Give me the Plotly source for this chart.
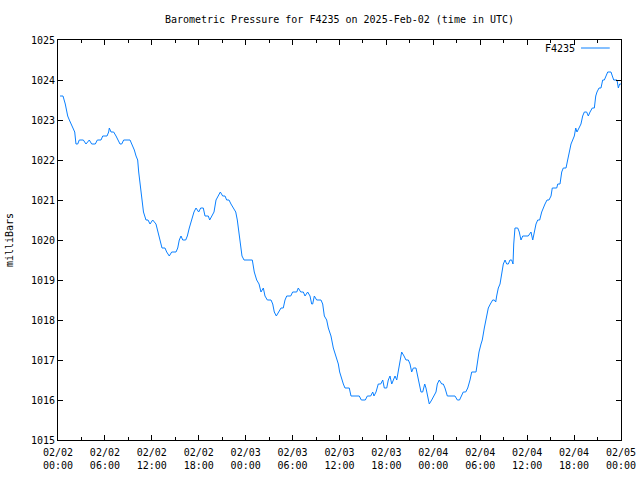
import pandas as pd
import plotly.graph_objects as go

start = "2025-02-02 00:00"
end = "2025-02-05 00:00"

# hours since 2025-02-02 00:00 UTC
hours = [0.26, 0.64, 0.93, 1.24, 1.45, 1.66, 1.96, 2.14, 2.30, 2.52, 2.72, 3.24, 3.58, 4.00, 4.31,
         4.77, 5.03, 5.50, 5.72, 6.27, 6.48, 6.56, 6.78, 7.12, 7.42, 7.71, 7.93, 8.15, 8.40, 9.21,
         9.46, 9.76, 9.98, 10.19, 10.32, 10.49, 10.65, 10.93, 11.25, 11.51, 11.77, 12.11, 12.53,
         12.83, 13.04, 13.30, 13.68, 13.90, 14.23, 14.54, 15.09, 15.31, 15.51, 15.73, 15.95, 16.33,
         16.54, 16.79, 17.10, 17.39, 17.65, 17.99, 18.25, 18.58, 18.80, 19.22, 19.40, 19.69, 19.95,
         20.21, 20.50, 20.76, 21.06, 21.36, 21.57, 21.87, 22.12, 22.42, 22.73, 22.93, 23.06, 23.19,
         23.37, 23.53, 23.79, 24.46, 24.85, 25.10, 25.41, 25.71, 25.96, 26.26, 26.47, 26.77, 27.24,
         27.46, 27.66, 27.92, 28.17, 28.52, 28.81, 29.03, 29.25, 29.76, 30.01, 30.53, 30.73, 31.04,
         31.37, 31.59, 31.93, 32.23, 32.44, 32.57, 32.78, 33.08, 33.63, 33.85, 34.06, 34.36, 34.57,
         34.91, 35.21, 35.51, 35.85, 36.02, 36.28, 36.49, 36.70, 37.25, 37.47, 38.53, 38.79, 39.30,
         39.56, 39.99, 40.25, 40.41, 40.67, 40.96, 41.27, 41.53, 41.73, 42.04, 42.24, 42.46, 42.68,
         42.88, 43.10, 43.32, 43.52, 43.74, 43.95, 44.25, 44.50, 44.80, 45.02, 45.23, 45.44, 45.78,
         46.00, 46.21, 46.42, 46.64, 46.90, 47.06, 47.23, 47.48, 47.79, 48.09, 48.34, 48.51, 48.76,
         49.07, 49.27, 49.49, 49.79, 50.77, 51.07, 51.35, 51.63, 51.83, 52.14, 52.40, 52.69, 52.91,
         53.46, 53.67, 53.84, 54.10, 54.26, 54.52, 54.82, 55.03, 55.29, 55.59, 55.80, 55.98, 56.10,
         56.31, 56.53, 56.74, 56.95, 57.17, 57.38, 57.59, 57.80, 58.02, 58.19, 58.28, 58.44, 58.79,
         58.99, 59.21, 59.43, 60.14, 60.49, 60.71, 60.91, 61.13, 61.35, 61.60, 61.86, 62.02, 62.28,
         62.54, 62.79, 63.05, 63.21, 63.78, 63.91, 64.20, 64.42, 64.62, 64.97, 65.18, 65.39, 65.61,
         65.82, 66.03, 66.21, 66.37, 66.63, 66.88, 67.10, 67.31, 67.61, 67.82, 68.04, 68.33, 68.59,
         68.77, 68.93, 69.19, 69.44, 69.66, 69.87, 70.08, 70.30, 70.47, 70.72, 70.89, 71.07, 71.49,
         71.66, 71.83, 72.00]

pressure = [1023.6, 1023.6, 1023.4, 1023.1, 1023.0, 1022.9, 1022.8, 1022.7, 1022.4, 1022.4, 1022.5,
            1022.5, 1022.4, 1022.5, 1022.4, 1022.4, 1022.5, 1022.5, 1022.6, 1022.6, 1022.7, 1022.8,
            1022.7, 1022.7, 1022.6, 1022.5, 1022.4, 1022.4, 1022.5, 1022.5, 1022.4, 1022.25, 1022.1,
            1022.0, 1021.7, 1021.4, 1021.2, 1020.7, 1020.5, 1020.5, 1020.4, 1020.5, 1020.4, 1020.2,
            1020.0, 1019.8, 1019.8, 1019.7, 1019.6, 1019.7, 1019.7, 1019.8, 1020.0, 1020.1, 1020.0,
            1020.0, 1020.1, 1020.3, 1020.5, 1020.7, 1020.8, 1020.7, 1020.8, 1020.8, 1020.6, 1020.6,
            1020.5, 1020.6, 1020.7, 1021.0, 1021.1, 1021.2, 1021.1, 1021.1, 1021.0, 1021.0, 1020.9,
            1020.8, 1020.7, 1020.5, 1020.3, 1020.0, 1019.8, 1019.6, 1019.5, 1019.5, 1019.5, 1019.2,
            1019.0, 1018.9, 1018.7, 1018.8, 1018.6, 1018.5, 1018.5, 1018.4, 1018.2, 1018.1, 1018.2,
            1018.3, 1018.3, 1018.5, 1018.6, 1018.6, 1018.7, 1018.7, 1018.8, 1018.7, 1018.7, 1018.6,
            1018.7, 1018.6, 1018.4, 1018.4, 1018.6, 1018.5, 1018.5, 1018.4, 1018.1, 1018.0, 1017.8,
            1017.6, 1017.3, 1017.1, 1016.9, 1016.7, 1016.5, 1016.4, 1016.3, 1016.3, 1016.1, 1016.1,
            1016.0, 1016.0, 1016.1, 1016.1, 1016.2, 1016.1, 1016.2, 1016.4, 1016.4, 1016.5, 1016.3,
            1016.3, 1016.5, 1016.6, 1016.4, 1016.5, 1016.6, 1016.5, 1016.7, 1017.0, 1017.2, 1017.1,
            1017.0, 1017.0, 1016.9, 1016.7, 1016.8, 1016.8, 1016.6, 1016.4, 1016.2, 1016.2, 1016.4,
            1016.3, 1016.1, 1015.9, 1016.0, 1016.1, 1016.2, 1016.4, 1016.5, 1016.4, 1016.4, 1016.3,
            1016.1, 1016.1, 1016.0, 1016.0, 1016.1, 1016.2, 1016.2, 1016.3, 1016.5, 1016.7, 1016.7,
            1017.0, 1017.2, 1017.4, 1017.5, 1017.8, 1018.1, 1018.3, 1018.4, 1018.5, 1018.5, 1018.45,
            1018.6, 1018.8, 1018.9, 1019.2, 1019.4, 1019.5, 1019.4, 1019.4, 1019.5, 1019.5, 1019.4,
            1019.9, 1020.3, 1020.3, 1020.2, 1020.0, 1020.1, 1020.1, 1020.2, 1020.0, 1020.2, 1020.4,
            1020.5, 1020.5, 1020.7, 1020.8, 1020.9, 1021.0, 1021.0, 1021.1, 1021.3, 1021.3, 1021.4,
            1021.4, 1021.7, 1021.8, 1021.8, 1022.0, 1022.2, 1022.4, 1022.5, 1022.6, 1022.8, 1022.7,
            1022.8, 1022.9, 1023.1, 1023.2, 1023.2, 1023.1, 1023.2, 1023.3, 1023.3, 1023.6, 1023.7,
            1023.8, 1023.8, 1024.0, 1024.0, 1024.1, 1024.2, 1024.2, 1024.2, 1024.1, 1024.0, 1024.0,
            1023.8, 1023.9, 1023.9]

series_name = "F4235"
title_text = "Barometric Pressure for F4235 on 2025-Feb-02 (time in UTC)"
y_title = "milliBars"

t0 = pd.Timestamp(start)
times = [t0 + pd.Timedelta(hours=h) for h in hours]
tick_times = pd.date_range(start, end, freq="6h")
tick_text = [t.strftime("%m/%d<br>%H:%M") for t in tick_times]

FONT = "DejaVu Sans Mono"
LINE_COLOR = "#0a80ff"

fig = go.Figure()
fig.add_trace(go.Scatter(x=times, y=pressure, mode="lines", name=series_name,
                         line=dict(color=LINE_COLOR, width=1), showlegend=False))

fig.update_layout(
    width=640, height=480,
    margin=dict(l=58, r=19, t=40, b=40),
    paper_bgcolor="white", plot_bgcolor="white",
    font=dict(family=FONT, size=10, color="black"),
    title=dict(text=title_text, x=0.5, xref="paper", y=1 - 19 / 480, yref="container",
               yanchor="middle", xanchor="center", font=dict(family=FONT, size=10)),
    xaxis=dict(range=[start, end], type="date", tickvals=tick_times, ticktext=tick_text,
               automargin=False, ticklabelstandoff=3,
               ticks="inside", ticklen=5, tickcolor="black", showline=True, linecolor="black",
               linewidth=1, mirror="ticks", showgrid=False, zeroline=False,
               minor=dict(dtick=3 * 3600 * 1000, ticks="inside", ticklen=3, tickcolor="black",
                          showgrid=False),
               tickfont=dict(family=FONT, size=10)),
    yaxis=dict(range=[1015, 1025], dtick=1, ticks="inside", ticklen=5, tickcolor="black",
               automargin=False,
               showline=True, linecolor="black", linewidth=1, mirror="ticks", showgrid=False,
               zeroline=False, title=dict(text=y_title, standoff=15, font=dict(family=FONT, size=10)),
               tickfont=dict(family=FONT, size=10)),
)

# gnuplot-style key: label followed by a line sample, top right inside the frame
fig.add_annotation(text=series_name, xref="paper", yref="paper", x=0.921, y=0.98,
                   xanchor="right", yanchor="middle", showarrow=False,
                   font=dict(family=FONT, size=10, color="black"))
fig.add_shape(type="line", xref="paper", yref="paper", x0=0.929, x1=0.980, y0=0.98, y1=0.98,
              line=dict(color=LINE_COLOR, width=1))

fig.write_html("out.html")
